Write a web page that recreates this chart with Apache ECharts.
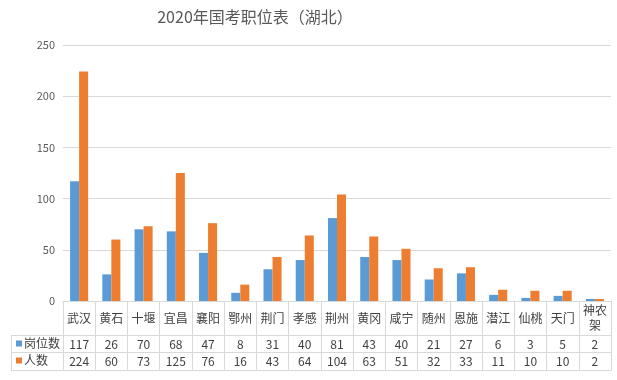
<!DOCTYPE html>
<html><head><meta charset="utf-8">
<script src="https://cdn.jsdelivr.net/npm/echarts@6/dist/echarts.min.js"></script>
<style>html,body{margin:0;padding:0;background:#fff}#c{width:617px;height:380px}</style>
</head><body><div id="c"></div>
<script>
const categories = ['武汉','黄石','十堰','宜昌','襄阳','鄂州','荆门','孝感','荆州','黄冈','咸宁','随州','恩施','潜江','仙桃','天门','神农架'];
const posts = [117,26,70,68,47,8,31,40,81,43,40,21,27,6,3,5,2];
const people = [224,60,73,125,76,16,43,64,104,63,51,32,33,11,10,10,2];
const seriesNames = ['岗位数','人数'];
const yTicks = {min:0, max:250, interval:50};

const FONT = 'Noto Sans CJK SC';
const GRID_LINE = '#D9D9D9';
const TXT = '#404040';
const chart = echarts.init(document.getElementById('c'));
const gridL = 63, gridR = 6, gridT = 45, gridB = 79;

function tableAxis(offset, tickLen, labels, showLabel) {
  return {
    type:'category', data:categories, position:'bottom', offset:offset,
    axisLine:{show:true, lineStyle:{color:GRID_LINE, width:1}},
    axisTick:{show:tickLen>0, length:tickLen, lineStyle:{color:GRID_LINE}},
    axisLabel:{show:showLabel, interval:0, color:TXT, fontFamily:FONT, fontSize:12,
      margin:Math.round(tickLen/2), verticalAlign:'middle',
      formatter:(v,i)=>labels? String(labels[i]) : v},
    splitLine:{show:false}
  };
}

const mainAxis = tableAxis(0, 34, null, true);
mainAxis.axisLabel.width = 30;
mainAxis.axisLabel.overflow = 'breakAll';
mainAxis.axisLabel.lineHeight = 15;

chart.setOption({
  animation:false,
  title:{text:'2020年国考职位表（湖北）', left:250, top:4, textAlign:'center',
    textStyle:{fontFamily:FONT, fontSize:16, fontWeight:'normal', color:'#595959'}},
  legend:{orient:'vertical', left:16, top:335, itemGap:0, itemWidth:6, itemHeight:6,
    icon:'rect', data:seriesNames,
    textStyle:{fontFamily:FONT, fontSize:12, color:TXT, lineHeight:17, height:17, padding:[0,0,0,-3]},
    padding:0, selectedMode:false},
  grid:{left:gridL, right:gridR, top:gridT, bottom:gridB},
  xAxis:[
    mainAxis,
    tableAxis(34, 17, posts, true),
    tableAxis(51, 18, people, true),
    tableAxis(69, 0, null, false)
  ],
  yAxis:{type:'value', min:yTicks.min, max:yTicks.max, interval:yTicks.interval,
    axisLine:{show:false}, axisTick:{show:false},
    axisLabel:{color:'#595959', fontFamily:FONT, fontSize:11, margin:8},
    splitLine:{lineStyle:{color:GRID_LINE}}},
  series:[
    {name:seriesNames[0], type:'bar', data:posts, xAxisIndex:0, barGap:'0%', barCategoryGap:'44%',
      itemStyle:{color:'#5B9BD5'}},
    {name:seriesNames[1], type:'bar', data:people, xAxisIndex:0, barGap:'0%', barCategoryGap:'44%',
      itemStyle:{color:'#ED7D31'}}
  ],
  graphic:[
    {type:'line', shape:{x1:11, y1:335.5, x2:gridL, y2:335.5}, style:{stroke:GRID_LINE}},
    {type:'line', shape:{x1:11, y1:352.5, x2:gridL, y2:352.5}, style:{stroke:GRID_LINE}},
    {type:'line', shape:{x1:11, y1:370.5, x2:gridL, y2:370.5}, style:{stroke:GRID_LINE}},
    {type:'line', shape:{x1:11.5, y1:335, x2:11.5, y2:371}, style:{stroke:GRID_LINE}}
  ]
});
</script></body></html>
